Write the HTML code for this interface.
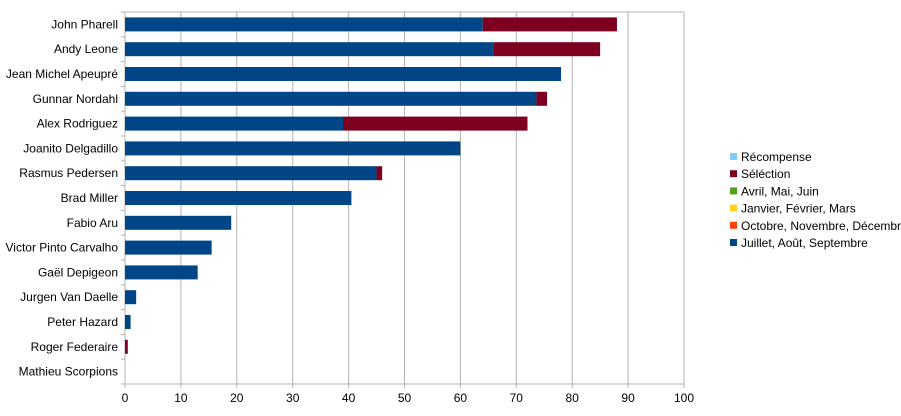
<!DOCTYPE html>
<html><head><meta charset="utf-8"><style>
body{margin:0;background:#fff;font-family:"Liberation Sans",sans-serif;}
svg text{font-family:"Liberation Sans",sans-serif;font-size:12px;fill:#000;}
</style></head><body>
<svg id="chart" width="901" height="411" xmlns="http://www.w3.org/2000/svg"></svg>
<script>
const categories=["John Pharell","Andy Leone","Jean Michel Apeupré","Gunnar Nordahl","Alex Rodriguez","Joanito Delgadillo","Rasmus Pedersen","Brad Miller","Fabio Aru","Victor Pinto Carvalho","Gaël Depigeon","Jurgen Van Daelle","Peter Hazard","Roger Federaire","Mathieu Scorpions"];
const julySeries=[64,66,78,73.6,39,60,45,40.5,19,15.5,13,2,1,0,0];
const selectionSeries=[24,19,0,1.9,33,0,1,0,0,0,0,0,0,0.5,0];
const xTicks=[0,10,20,30,40,50,60,70,80,90,100];
const legendLabels=["Récompense","Séléction","Avril, Mai, Juin","Janvier, Février, Mars","Octobre, Novembre, Décembre","Juillet, Août, Septembre"];
const legendColors=["#83caff","#7e0021","#579d1c","#ffd320","#ff420e","#004586"];

const svgEl=document.getElementById('chart');
const NS="http://www.w3.org/2000/svg";
const X0=125,X1=684,Y0=12,Y1=384;
const xs=v=>X0+(v/100)*(X1-X0);
const band=(Y1-Y0)/categories.length;
const yc=i=>Y0+band*(i+0.5);
function mk(t,a){const e=document.createElementNS(NS,t);for(const k in a)e.setAttribute(k,a[k]);svgEl.appendChild(e);return e;}

xTicks.forEach(t=>{
  const g=mk('line',{x1:xs(t),x2:xs(t),y1:Y0,y2:Y1+4,stroke:'#b3b3b3','stroke-width':1});
  
  
  const tx=mk('text',{x:xs(t),y:Y1+18,'text-anchor':'middle'});
  tx.textContent=t;
  
  
});
const plotTop=mk('line',{x1:X0,x2:X1,y1:Y0,y2:Y0,stroke:'#b3b3b3'});


const xAxisLine=mk('line',{x1:X0,x2:X1,y1:Y1,y2:Y1,stroke:'#b3b3b3'});


const yAxisLine=mk('line',{x1:X0,x2:X0,y1:Y0,y2:Y1,stroke:'#b3b3b3'});


for(let i=0;i<=categories.length;i++){
  const tk=mk('line',{x1:X0-4,x2:X0,y1:Y0+band*i,y2:Y0+band*i,stroke:'#b3b3b3'});
  
  
}
categories.forEach((c,i)=>{
  const t=mk('text',{x:118,y:yc(i)+4,'text-anchor':'end'});
  t.textContent=c;
  
  
  const h=14;
  if(julySeries[i]>0){
    const r=mk('rect',{x:xs(0),y:yc(i)-h/2,width:xs(julySeries[i])-xs(0),height:h,fill:'#004586'});
    
    
  }
  if(selectionSeries[i]>0){
    const r=mk('rect',{x:xs(julySeries[i]),y:yc(i)-h/2,width:xs(julySeries[i]+selectionSeries[i])-xs(julySeries[i]),height:h,fill:'#7e0021'});
    
    
  }
});
legendLabels.forEach((l,i)=>{
  const y=157+i*17.2;
  const s=mk('rect',{x:730,y:y-4,width:7,height:7,fill:legendColors[i]});
  
  
  const t=mk('text',{x:741,y:y+4});
  t.textContent=l;
  
  
});
</script>
</body></html>
